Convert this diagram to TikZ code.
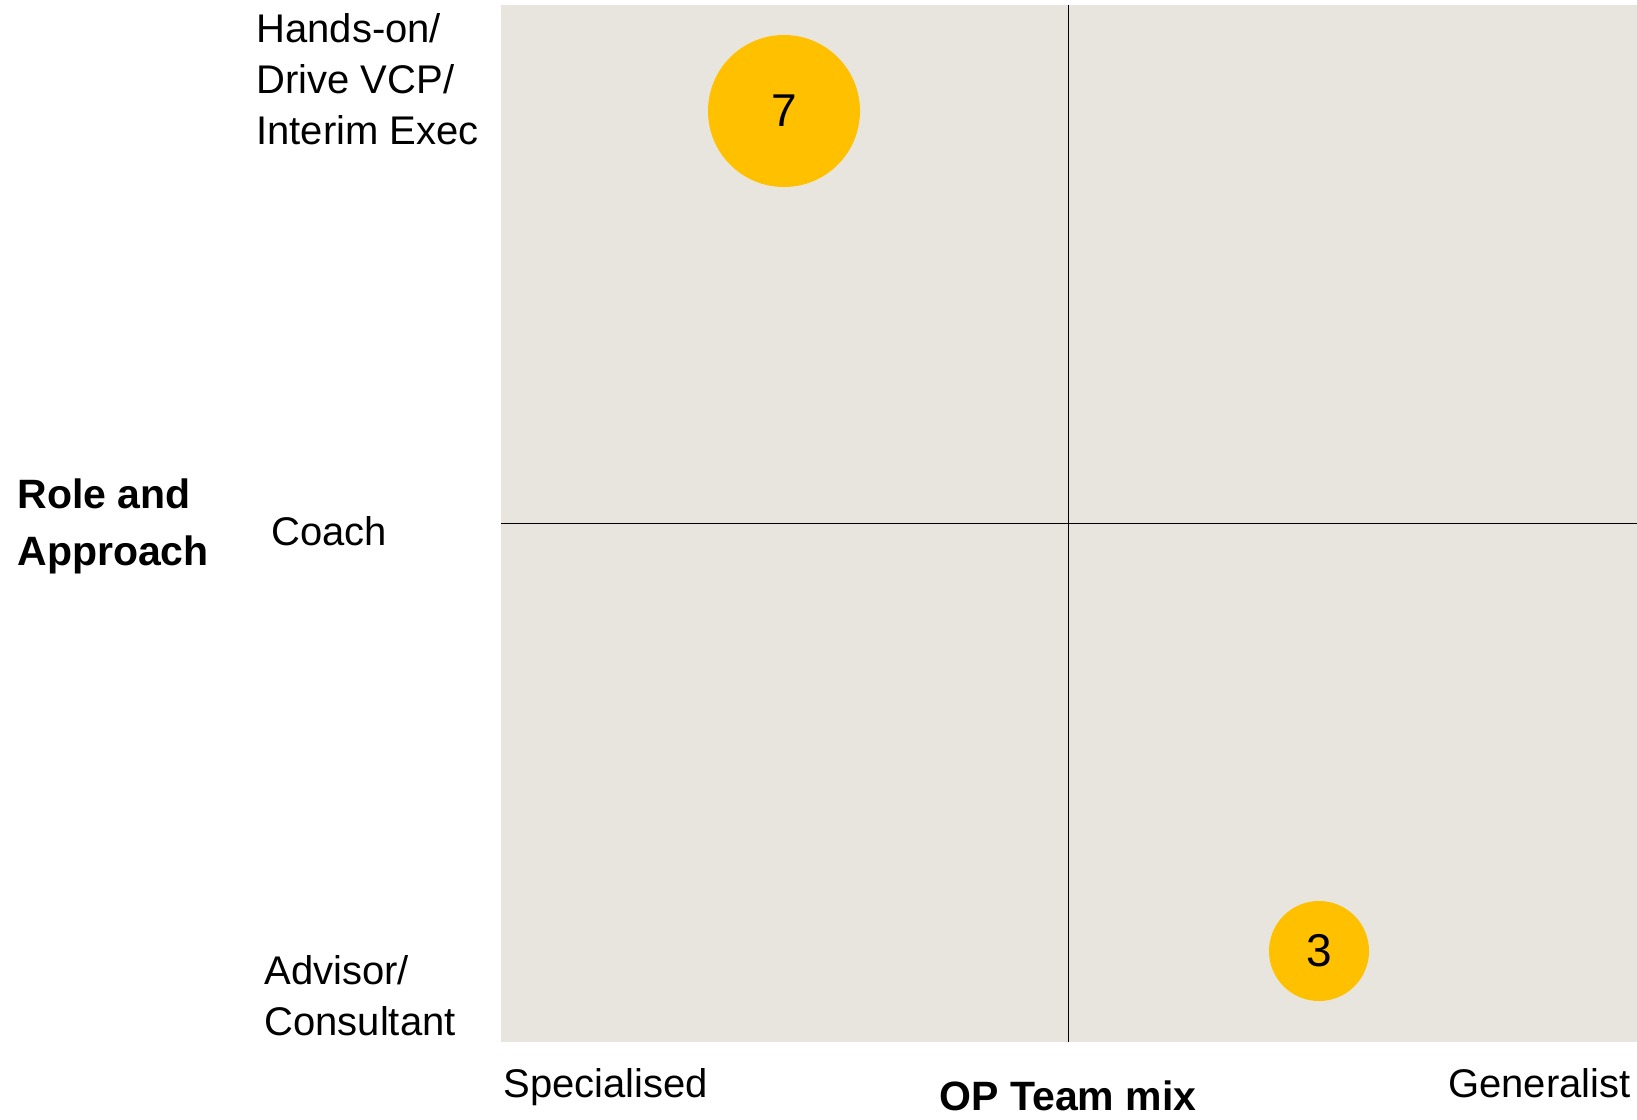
\documentclass[tikz,border=0pt]{standalone}
\usepackage{fontspec}
\setmainfont{Liberation Sans}
\usepackage{tikz}
\usetikzlibrary{positioning}
\definecolor{quadgrey}{HTML}{E7E5DE}
\definecolor{dotyellow}{HTML}{FFC000}
\tikzset{
  axislabel/.style={font=\fontsize{20}{25.5}\selectfont,align=left,inner sep=0pt},
  axistitle/.style={font=\fontsize{20.5}{28.5}\selectfont\bfseries,align=left,inner sep=0pt},
  dot/.style={circle,fill=dotyellow,inner sep=0pt,font=\fontsize{23}{23}\selectfont}
}
\begin{document}
\begin{tikzpicture}[x=0.5pt,y=-0.5pt]
\useasboundingbox (0,0) rectangle (1637,1119);
\fill[quadgrey] (501,5) rectangle (1637,1042);
\coordinate (top) at (1068,5);
\coordinate (bottom) at (1068,1042);
\coordinate (left) at (501,523);
\coordinate (right) at (1637,523);
\draw[thin] (top) -- (bottom);
\draw[thin] (left) -- (right);
\node[dot,minimum size=76pt] (seven) at (784,111) {7};
\node[dot,minimum size=50pt] (three) at (1319,951) {3};
\node[axislabel,anchor=west] (hands) at (256,79) {Hands-on/\\Drive VCP/\\Interim Exec};
\node[axislabel,anchor=west] (coach) at (271,531) {Coach};
\node[axislabel,anchor=west] (advisor) at (264,996) {Advisor/\\Consultant};
\node[axistitle,anchor=west] (role) at (17,526) {Role and\\Approach};
\node[axislabel,anchor=base west] (spec) at (503,1097) {Specialised};
\node[axislabel,anchor=base east] (gen) at (1631,1097) {Generalist};
\node[axistitle] (mix) at (1068,1096) {OP Team mix};
\end{tikzpicture}
\end{document}
